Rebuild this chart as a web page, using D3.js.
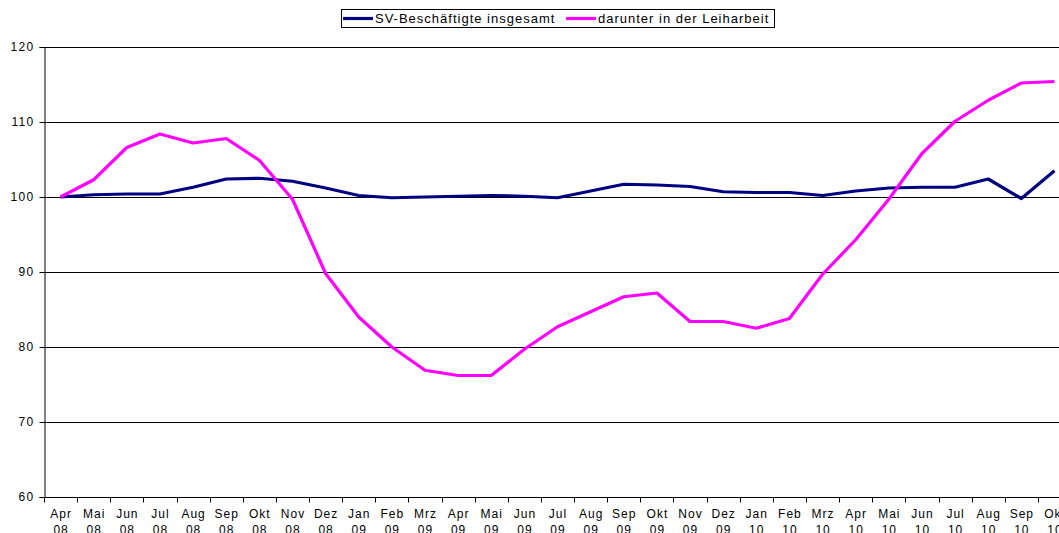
<!DOCTYPE html>
<html>
<head>
<meta charset="utf-8">
<script src="https://cdn.jsdelivr.net/npm/d3@7"></script>
<style>
  body { margin: 0; background: #fff; }
  svg text { font-family: "Liberation Sans", Arial, sans-serif; font-size: 12px; letter-spacing: 1px; fill: #000; }
</style>
</head>
<body>
<div id="container"></div>
<script>
// month labels (first line) and year labels (second line)
const months = ['Apr','Mai','Jun','Jul','Aug','Sep','Okt','Nov','Dez','Jan','Feb','Mrz',
                'Apr','Mai','Jun','Jul','Aug','Sep','Okt','Nov','Dez','Jan','Feb','Mrz',
                'Apr','Mai','Jun','Jul','Aug','Sep','Okt'];
const years  = ['08','08','08','08','08','08','08','08','08','09','09','09',
                '09','09','09','09','09','09','09','09','09','10','10','10',
                '10','10','10','10','10','10','10'];

const svTotal = [100, 100.3, 100.4, 100.4, 101.3, 102.4, 102.5, 102.1, 101.2, 100.2, 99.9, 100,
                 100.1, 100.2, 100.1, 99.9, 100.8, 101.7, 101.6, 101.4, 100.7, 100.6, 100.6, 100.2,
                 100.8, 101.2, 101.3, 101.3, 102.4, 99.8, 103.5];
const leiharbeit = [100, 102.3, 106.6, 108.4, 107.2, 107.8, 104.9, 99.7, 89.8, 84.0, 80.0, 76.9,
                    76.2, 76.2, 79.7, 82.7, 84.7, 86.7, 87.2, 83.4, 83.4, 82.5, 83.8, 89.7,
                    94.3, 99.7, 105.8, 110.1, 112.9, 115.2, 115.4];

const seriesNames = ['SV-Beschäftigte insgesamt', 'darunter in der Leiharbeit'];
const seriesColors = ['#000080', '#FF00FF'];
const yTicks = [60, 70, 80, 90, 100, 110, 120];

const W = 1059, H = 533;
const plotLeft = 44, plotTop = 47, plotBottom = 497, step = 33.13;

const svg = d3.select('#container').append('svg')
    .attr('width', W).attr('height', H);

const keys = d3.range(months.length);
const x = d3.scaleBand().domain(keys).range([plotLeft, plotLeft + step * months.length]);
const y = d3.scaleLinear().domain([60, 120]).range([plotBottom, plotTop]);

// gridlines
svg.append('g').selectAll('line').data(yTicks.slice(1)).enter().append('line')
    .attr('x1', plotLeft).attr('x2', W)
    .attr('y1', d => y(d) + 0.5).attr('y2', d => y(d) + 0.5)
    .attr('stroke', '#000').attr('stroke-width', 1);

// y axis
const yAxis = svg.append('g').attr('transform', `translate(${plotLeft + 0.5},0)`)
    .call(d3.axisLeft(y).tickValues(yTicks).tickSize(5).tickPadding(5));
yAxis.select('.domain').attr('stroke', '#000');
yAxis.selectAll('text').attr('font-family', null).attr('font-size', null)
    .style('letter-spacing', '1.3px');

// x axis with ticks on band boundaries
const xg = svg.append('g').attr('transform', `translate(0,${plotBottom + 0.5})`);
xg.append('line').attr('x1', plotLeft).attr('x2', W).attr('stroke', '#000');
xg.selectAll('line.tick').data(keys).enter().append('line')
    .attr('class', 'tick')
    .attr('x1', d => Math.round(x(d)) + 0.5).attr('x2', d => Math.round(x(d)) + 0.5)
    .attr('y1', 0).attr('y2', 5).attr('stroke', '#000');
const lbl = xg.selectAll('text').data(keys).enter().append('text')
    .attr('text-anchor', 'middle')
    .attr('y', 20.5);
lbl.append('tspan').attr('x', d => x(d) + x.bandwidth() / 2 + 0.5).text(d => months[d]);
lbl.append('tspan').attr('x', d => x(d) + x.bandwidth() / 2 + 0.5).attr('dy', 16).text(d => years[d]);

// lines
const line = d3.line()
    .x((d, i) => x(i) + x.bandwidth() / 2)
    .y(d => y(d));

[svTotal, leiharbeit].forEach((s, k) => {
  svg.append('path').datum(s)
     .attr('d', line)
     .attr('fill', 'none')
     .attr('stroke', seriesColors[k])
     .attr('stroke-width', 3.2)
     .attr('stroke-linejoin', 'round');
});

// legend
const lg = svg.append('g');
lg.append('rect').attr('x', 341.5).attr('y', 9.5).attr('width', 433).attr('height', 18)
  .attr('fill', '#fff').attr('stroke', '#000');
const legendX = [343, 566];
seriesNames.forEach((n, k) => {
  lg.append('line').attr('x1', legendX[k]).attr('x2', legendX[k] + 30)
    .attr('y1', 18.5).attr('y2', 18.5)
    .attr('stroke', seriesColors[k]).attr('stroke-width', 3.2);
  lg.append('text').attr('x', legendX[k] + 32).attr('y', 22.5)
    .style('font-size', '13px').text(n);
});
</script>
</body>
</html>
